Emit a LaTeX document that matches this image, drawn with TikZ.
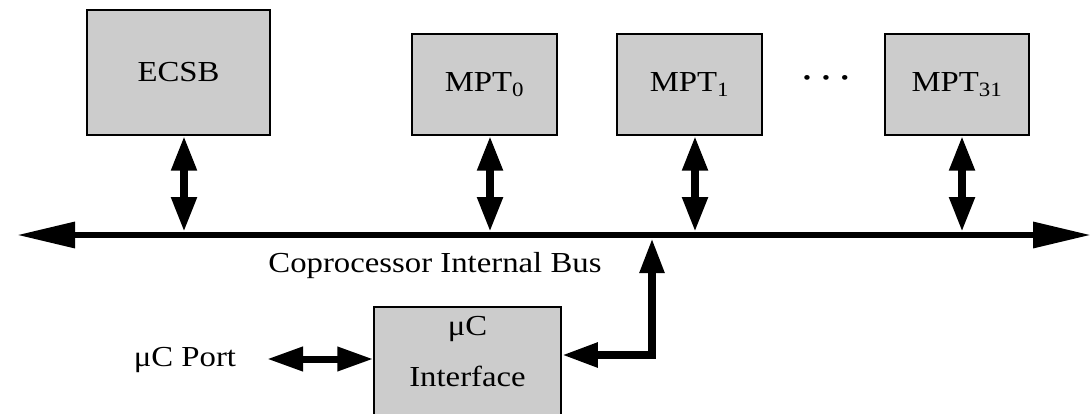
\documentclass[tikz,border=0pt]{standalone}
\usepackage{fontspec}
\setmainfont{Liberation Serif}[FakeStretch=1.13]
\usetikzlibrary{arrows.meta}
\definecolor{boxgray}{HTML}{CCCCCC}
\tikzset{
  blk/.style={draw=black, line width=1.5pt, fill=boxgray, inner sep=0pt,
    font=\fontsize{29}{34}\selectfont},
  lbl/.style={font=\fontsize{29}{34}\selectfont, inner sep=0pt},
  busline/.style={line width=6.5pt, {Triangle[length=58pt,width=25pt]}-{Triangle[length=58pt,width=25pt]}},
  dbl/.style={line width=8pt, {Triangle[length=35pt,width=24pt]}-{Triangle[length=35pt,width=24pt]}},
  pth/.style={line width=8pt, line join=miter, {Triangle[length=35pt,width=23pt]}-{Triangle[length=36pt,width=23pt]}},
}
\begin{document}
\begin{tikzpicture}[x=1pt, y=-1pt]
\useasboundingbox (0,0) rectangle (1091,414);
\clip (0,0) rectangle (1091,414);
% blocks
\node[blk, minimum width=183pt, minimum height=125pt] (ecsb) at (178.5,72.5) {ECSB};
\node[blk, minimum width=145pt, minimum height=101pt] (mpt0) at (484.5,84.5) {MPT\textsubscript{0}};
\node[blk, minimum width=145pt, minimum height=101pt] (mpt1) at (689.5,84.5) {MPT\textsubscript{1}};
\node[blk, minimum width=144pt, minimum height=101pt] (mpt31) at (957,84.5) {MPT\textsubscript{31}};
\node[lbl] (dots) at (826,80) {\fontsize{20}{20}\selectfont\textbullet\hspace{11pt}\textbullet\hspace{11pt}\textbullet};
\node[blk, minimum width=187pt, minimum height=140pt, anchor=north] (uc) at (467.5,306) {};
\node[lbl, align=center] (uctext) at (467.5,352) {μC\\[17pt]Interface};
% bus
\coordinate (busL) at (17,235);
\coordinate (busR) at (1091,235);
\draw[busline] (busL) -- (busR);
\node[lbl] (buslbl) at (435,266) {Coprocessor Internal Bus};
% connectors
\coordinate (jE) at (184,232);
\coordinate (j0) at (490,232);
\coordinate (j1) at (695,232);
\coordinate (j31) at (962,232);
\draw[dbl] (ecsb.south -| jE) -- (jE);
\draw[dbl] (mpt0.south -| j0) -- (j0);
\draw[dbl] (mpt1.south -| j1) -- (j1);
\draw[dbl] (mpt31.south -| j31) -- (j31);
\coordinate (jU) at (652,238);
\coordinate (cornerU) at (652,355);
\draw[pth] (jU) -- (cornerU) -- (uc.east |- cornerU);
% port
\node[lbl] (port) at (185,360) {μC Port};
\coordinate (portend) at (267,359);
\draw[line width=7pt, {Triangle[length=36pt,width=23pt]}-{Triangle[length=36pt,width=23pt]}] (portend) -- (uc.west |- portend);
\end{tikzpicture}
\end{document}
